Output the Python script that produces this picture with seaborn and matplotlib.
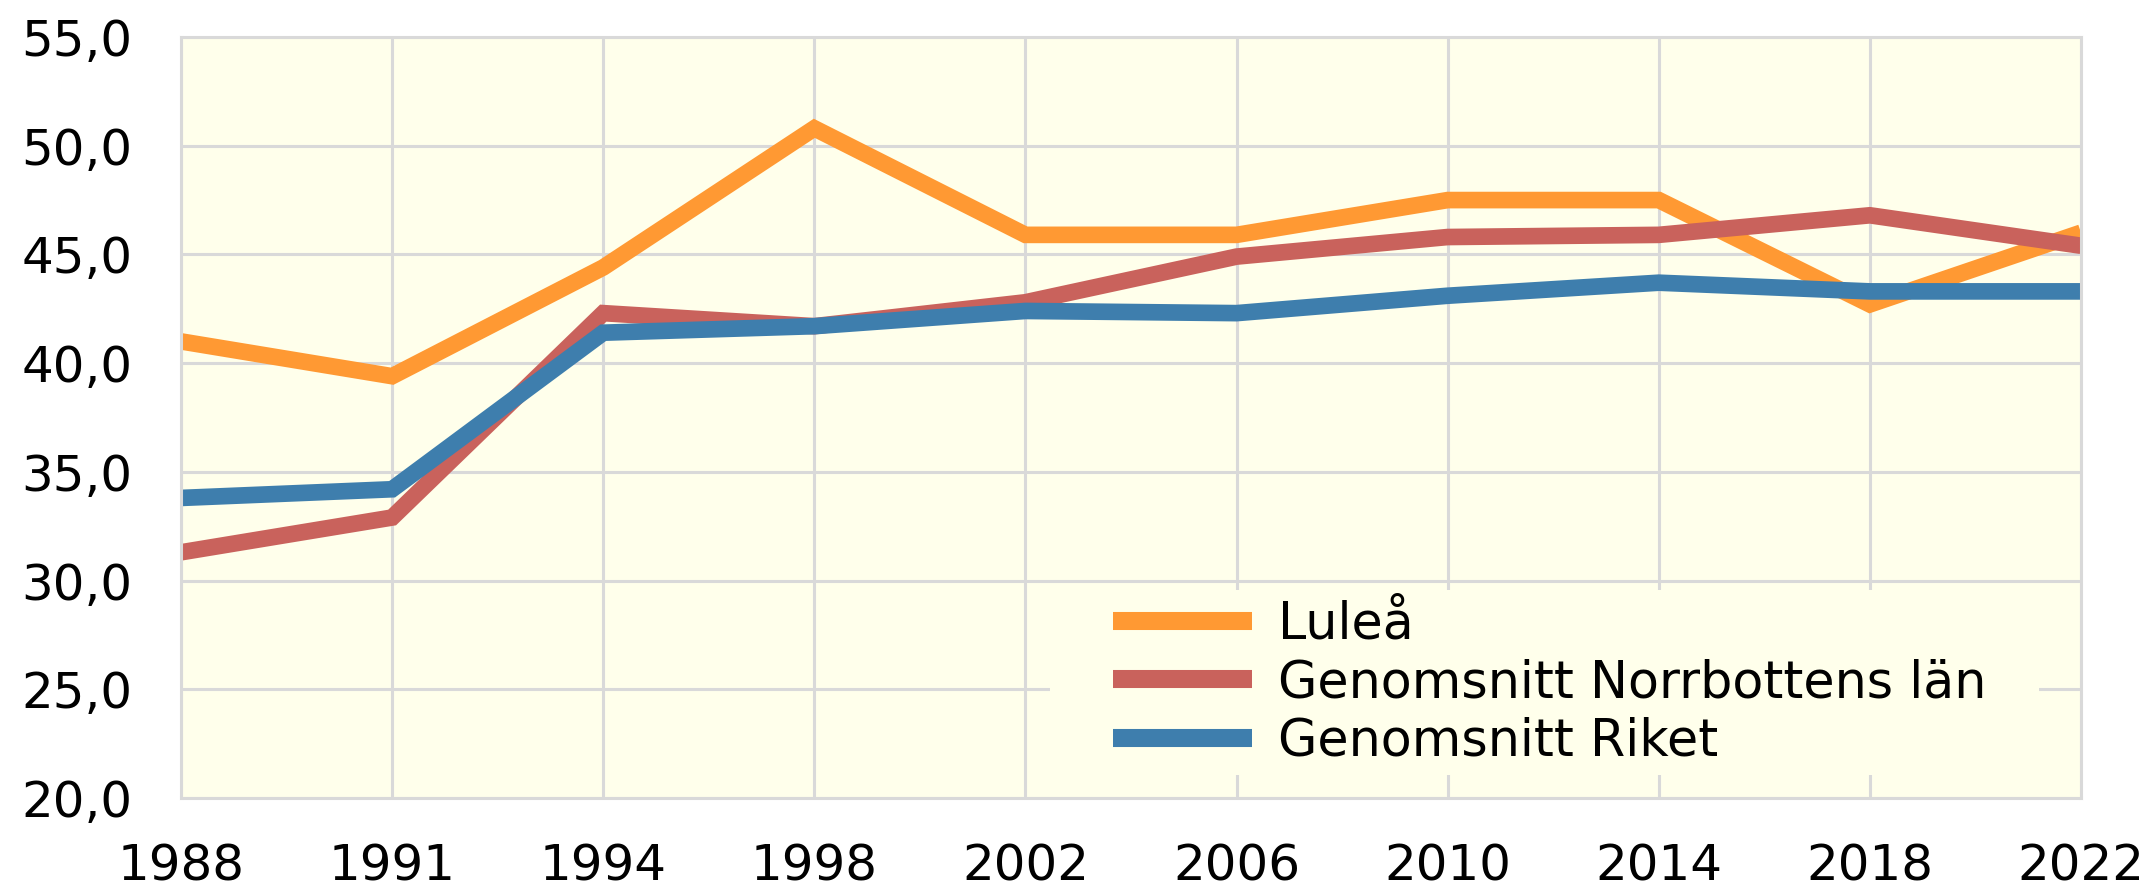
import numpy as np
import pandas as pd
import matplotlib
matplotlib.use("Agg")
import matplotlib.pyplot as plt
from matplotlib.patches import Rectangle
import seaborn as sns

years = ["1988", "1991", "1994", "1998", "2002", "2006", "2010", "2014", "2018", "2022"]
lulea = [41.0, 39.4, 44.4, 50.8, 45.9, 45.9, 47.5, 47.5, 42.7, 46.0]
norrbotten = [31.3, 32.9, 42.3, 41.7, 42.8, 44.9, 45.8, 45.9, 46.8, 45.4]
riket = [33.8, 34.2, 41.4, 41.7, 42.4, 42.3, 43.1, 43.7, 43.3, 43.3]
series_names = ["Luleå", "Genomsnitt Norrbottens län", "Genomsnitt Riket"]
colors = ["#FF9933", "#C9625C", "#3E7EAD"]
y_ticks = [20, 25, 30, 35, 40, 45, 50, 55]

sns.set_style("white")
plt.rcParams["font.family"] = ["DejaVu Sans"]
plt.rcParams["text.color"] = "black"

rows = []
for name, vals in zip(series_names, [lulea, norrbotten, riket]):
    for i, (yr, v) in enumerate(zip(years, vals)):
        rows.append({"pos": i, "year": yr, "value": v, "series": name})
df = pd.DataFrame(rows)

W, H = 2151, 889
BG = "#FFFFEB"
fig = plt.figure(figsize=(W / 100, H / 100), dpi=100)
left, right, top, bottom = 181, 2081, 37, 798
ax = fig.add_axes([left / W, 1 - bottom / H, (right - left) / W, (bottom - top) / H])
ax.set_facecolor(BG)

sns.lineplot(data=df, x="pos", y="value", hue="series", hue_order=series_names,
             palette=colors, linewidth=12, ax=ax, legend=True, sort=False)
for ln in ax.get_lines():
    ln.set_solid_joinstyle("miter")
    ln.set_solid_capstyle("butt")

ax.set_xlim(0, len(years) - 1)
ax.set_ylim(min(y_ticks), max(y_ticks))
ax.set_xticks(range(len(years)))
ax.set_xticklabels(years)
ax.set_yticks(y_ticks)
ax.set_yticklabels([f"{t:.1f}".replace(".", ",") for t in y_ticks])
ax.set_xlabel("")
ax.set_ylabel("")
ax.grid(True, color="#D9D9D9", linewidth=2.2)
ax.set_axisbelow(True)
for s in ax.spines.values():
    s.set_color("#D9D9D9")
    s.set_linewidth(2.2)
ax.tick_params(axis="both", length=0, labelsize=36, colors="black")
ax.tick_params(axis="x", pad=32)
ax.tick_params(axis="y", pad=35)

# legend background box (covers gridlines like the original)
lx0, lx1, ly0, ly1 = 1050, 2039, 590, 775
ax.add_patch(Rectangle(((lx0 - left) / (right - left), (bottom - ly1) / (bottom - top)),
                       (lx1 - lx0) / (right - left), (ly1 - ly0) / (bottom - top),
                       transform=ax.transAxes, facecolor=BG, edgecolor="none", zorder=1))

handles, labels = ax.get_legend_handles_labels()
leg = ax.legend(handles, labels, loc="center left",
                bbox_to_anchor=(1113 / W, 1 - 683 / H), bbox_transform=fig.transFigure,
                fontsize=36.5, frameon=False, borderpad=0, handlelength=2.75,
                handletextpad=0.5, labelspacing=0.17, borderaxespad=0)
for h in leg.get_lines():
    h.set_linewidth(13)
    h.set_solid_capstyle("butt")
for t in leg.get_texts():
    t.set_color("black")

fig.savefig("out.png", dpi=100)
